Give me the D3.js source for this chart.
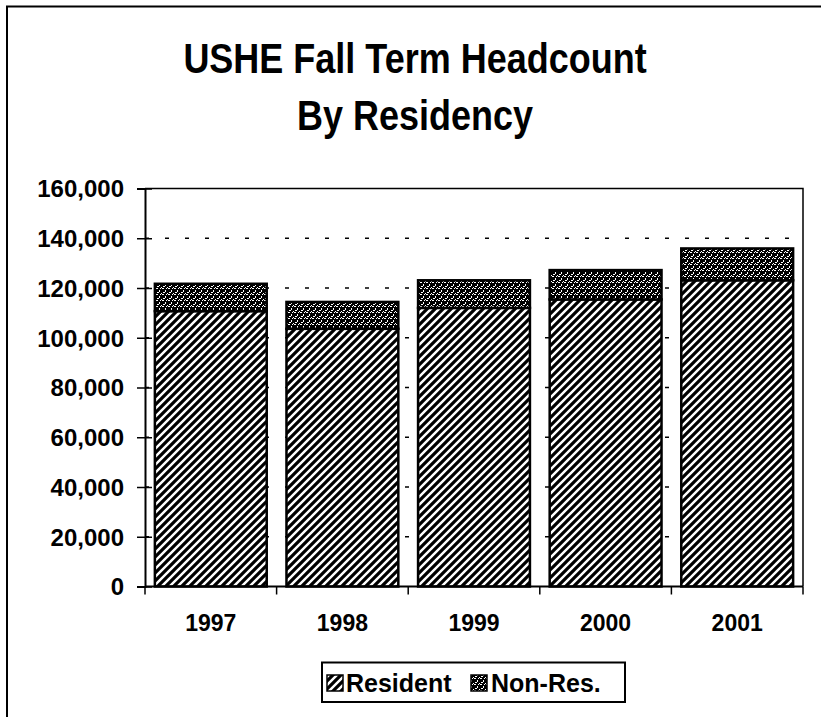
<!DOCTYPE html>
<html>
<head>
<meta charset="utf-8">
<script src="https://cdn.jsdelivr.net/npm/d3@7"></script>
<style>
  html, body { margin: 0; padding: 0; background: #fff; }
  svg { display: block; }
  text { font-family: "Liberation Sans", Arial, Helvetica, sans-serif; font-weight: bold; fill: #000; }
</style>
</head>
<body>
<svg id="chart" width="821" height="717"></svg>
<script>
const years = ["1997", "1998", "1999", "2000", "2001"];
const resident = [110700, 103600, 112000, 115400, 123100];
const nonResident = [11000, 10800, 11100, 11800, 12800];
const yTicks = [0, 20000, 40000, 60000, 80000, 100000, 120000, 140000, 160000];
const seriesNames = ["Resident", "Non-Res."];
const titleLines = ["USHE Fall Term Headcount", "By Residency"];

(function () {
const svg = d3.select("#chart");
const W = 821, H = 717;
svg.append("rect").attr("width", W).attr("height", H).attr("fill", "#fff");

// patterns
const defs = svg.append("defs");
const pHatch = defs.append("pattern").attr("id", "hatch").attr("patternUnits", "userSpaceOnUse")
  .attr("width", 8).attr("height", 8);
pHatch.append("rect").attr("width", 8).attr("height", 8).attr("fill", "#fff");
pHatch.append("path").attr("d", "M-2,2 L2,-2 M0,8 L8,0 M6,10 L10,6")
  .attr("stroke", "#000").attr("stroke-width", 3.2);

const pDots = defs.append("pattern").attr("id", "dots").attr("patternUnits", "userSpaceOnUse")
  .attr("width", 6).attr("height", 6);
pDots.append("rect").attr("width", 6).attr("height", 6).attr("fill", "#000");
[[0,0,2,1],[3,2,1,2],[1,4,2,1],[5,5,1,1],[4,0,1,1]].forEach(d => {
  pDots.append("rect").attr("x", d[0]).attr("y", d[1]).attr("width", d[2]).attr("height", d[3]).attr("fill", "#fff");
});

// outer frame (top & left visible)
svg.append("path").attr("d", `M7,${H} L7,6.5 L${W},6.5`).attr("fill", "none")
  .attr("stroke", "#000").attr("stroke-width", 2);

// title
const titleG = svg.append("g");
const titleBase = [73, 130];
titleLines.forEach((t, i) => {
  titleG.append("text")
    .attr("transform", `translate(415,${titleBase[i]}) scale(1,1.18)`)
    .attr("text-anchor", "middle")
    .attr("font-size", 36)
    .text(t);
});

// plot area
const pL = 145, pR = 803, pT = 188.5, pB = 586.5;
const x = d3.scaleBand().domain(years).range([pL, pR]).paddingInner(0.15).paddingOuter(0.075);
const y = d3.scaleLinear().domain([0, 160000]).range([pB, pT]);

// gridlines
svg.append("g").selectAll("line").data(yTicks.filter(v => v > 0 && v < 160000)).join("line")
  .attr("x1", pL).attr("x2", pR)
  .attr("y1", d => y(d)).attr("y2", d => y(d))
  .attr("stroke", "#000").attr("stroke-width", 1.5).attr("stroke-dasharray", "4,16");

// plot border
svg.append("path").attr("d", `M${pL},${pT} L${pR},${pT} L${pR},${pB}`)
  .attr("fill", "none").attr("stroke", "#000").attr("stroke-width", 1.5);

// bars
const stackData = years.map((yr, i) => ({ year: yr, Resident: resident[i], "Non-Res.": nonResident[i] }));
const stack = d3.stack().keys(seriesNames)(stackData);
const fills = { "Resident": "url(#hatch)", "Non-Res.": "url(#dots)" };
svg.append("g").selectAll("g").data(stack).join("g")
  .attr("fill", d => fills[d.key])
  .selectAll("rect").data(d => d).join("rect")
  .attr("x", d => x(d.data.year))
  .attr("width", x.bandwidth())
  .attr("y", d => y(d[1]))
  .attr("height", d => y(d[0]) - y(d[1]))
  .attr("stroke", "#000").attr("stroke-width", 2.5);

// y axis
const yAxis = d3.axisLeft(y).tickValues(yTicks).tickFormat(d3.format(",")).tickSize(8).tickPadding(13);
const yg = svg.append("g").attr("transform", `translate(${pL},0)`).call(yAxis);
yg.attr("font-family", null).attr("font-size", null);
yg.select(".domain").attr("stroke-width", 2);
yg.selectAll(".tick line").attr("x2", -8).attr("x1", 7).attr("stroke-width", 1.5);
yg.selectAll(".tick text").attr("font-size", 24).attr("dy", "0.35em");

// x axis
const xg = svg.append("g").attr("transform", `translate(0,${pB})`);
xg.append("line").attr("x1", pL).attr("x2", pR).attr("stroke", "#000").attr("stroke-width", 2);
const bounds = years.map(d => x(d) - x.step() * x.paddingInner() / 2).concat([pR]);
xg.selectAll("line.b").data(bounds).join("line").attr("class", "b")
  .attr("x1", d => d).attr("x2", d => d).attr("y1", 0).attr("y2", 8)
  .attr("stroke", "#000").attr("stroke-width", 1.5);
xg.selectAll("text").data(years).join("text")
  .attr("x", d => x(d) + x.bandwidth() / 2)
  .attr("y", 44)
  .attr("text-anchor", "middle")
  .attr("font-size", 23)
  .text(d => d);

// legend
const lg = svg.append("g");
const lx0 = 322, lx1 = 625, ly0 = 662.5, ly1 = 702;
lg.append("rect").attr("x", lx0).attr("y", ly0).attr("width", lx1 - lx0).attr("height", ly1 - ly0)
  .attr("fill", "#fff").attr("stroke", "#000").attr("stroke-width", 2);
const legItems = [
  { key: "Resident", sx: 327, tx: 346 },
  { key: "Non-Res.", sx: 471, tx: 491 }
];
legItems.forEach(it => {
  lg.append("rect").attr("x", it.sx).attr("y", 675).attr("width", 16).attr("height", 16)
    .attr("fill", fills[it.key]).attr("stroke", "#000").attr("stroke-width", 1.5);
  lg.append("text").attr("x", it.tx).attr("y", 692).attr("font-size", 25).text(it.key);
});
})();
</script>
</body>
</html>
